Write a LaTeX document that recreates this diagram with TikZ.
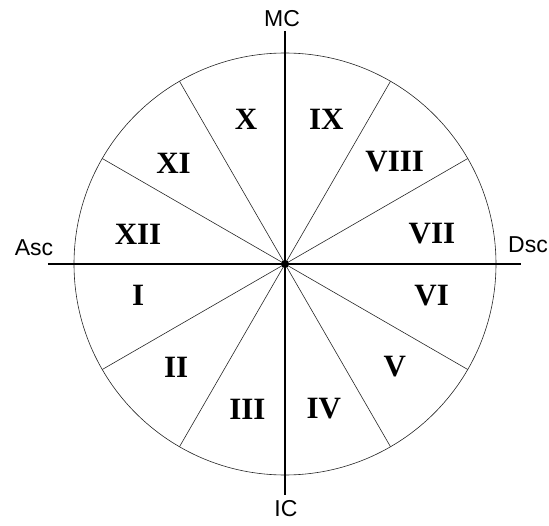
\documentclass[tikz,border=0pt]{standalone}
\usepackage{fontspec}
\setmainfont{Liberation Serif}
\setsansfont{Liberation Sans}

\tikzset{
  house/.style={font=\fontsize{31}{31}\selectfont\bfseries},
  axlabel/.style={font=\sffamily\fontsize{23}{23}\selectfont},
  axis/.style={line width=1.8pt},
  cusp/.style={line width=0.6pt, black!85}
}

\begin{document}
\begin{tikzpicture}[x=1pt,y=1pt]
  \useasboundingbox (-285,-261) rectangle (264,264);
  \coordinate (O) at (0,0);
  \coordinate (A) at (-237,0);
  \coordinate (D) at (236,0);
  \coordinate (M) at (0,233);
  \coordinate (I) at (0,-231);

  \draw[cusp] (O) circle[radius=211];
  \foreach \a in {30,60,120,150,210,240,300,330} {
    \coordinate (c\a) at (\a:211);
    \draw[cusp] (O) -- (c\a);
  }
  \draw[axis] (A) -- (D);
  \draw[axis] (M) -- (I);
  \fill (O) circle[radius=4];

  \foreach \a/\n in {192/I, 223.5/II, 255.5/III, 285/IV, 317/V, 348/VI,
                     11.6/VII, 43/VIII, 74/IX, 105/X, 138/XI, 168.5/XII}
    \node[house] (h\n) at (\a:150) {\n};

  \node[axlabel] (asc) at (-251,16) {Asc};
  \node[axlabel] (dsc) at (243,19) {Dsc};
  \node[axlabel] (mc) at (-3,245) {MC};
  \node[axlabel] (ic) at (1,-245) {IC};
\end{tikzpicture}
\end{document}
